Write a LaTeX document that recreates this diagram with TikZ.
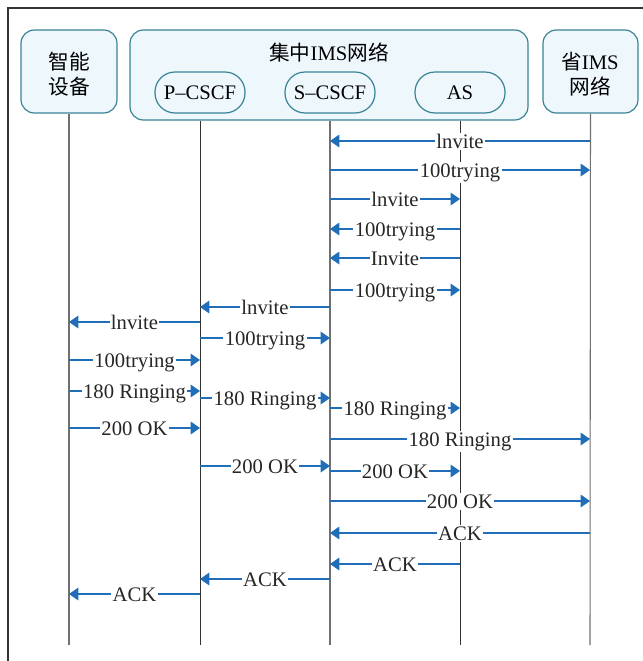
\documentclass[tikz,border=0pt]{standalone}
\usepackage{fontspec}
\setmainfont{Liberation Serif}
\newfontfamily\cjk{Noto Sans CJK SC}
\usetikzlibrary{arrows.meta}
\definecolor{boxline}{HTML}{3A8396}
\definecolor{boxfill}{HTML}{EEF7FC}
\definecolor{msgc}{HTML}{1F6EB7}
\definecolor{framec}{HTML}{333333}
\definecolor{lifec}{HTML}{707070}
\newcommand\seqmsg[4]{\draw[msgarrow] (#1 |- 0,#3) -- node[lbl]{#4} (#2 |- 0,#3);}
\begin{document}
\begin{tikzpicture}[x=0.75pt,y=-0.75pt,
  bigbox/.style={draw=boxline,fill=boxfill,line width=0.9pt,rounded corners=10pt,inner sep=0pt},
  pill/.style={draw=boxline,fill=boxfill,line width=0.9pt,rounded corners=15pt,minimum width=67.5pt,minimum height=30.75pt,inner sep=0pt,font=\fontsize{15.5pt}{18pt}\selectfont},
  boxtxt/.style={font=\fontsize{15.5pt}{18.75pt}\selectfont,align=center},
  lifeline/.style={draw=lifec,line width=0.8pt},
  lifethin/.style={draw=black!80,line width=0.55pt},
  msgarrow/.style={draw=msgc,line width=0.9pt,-{Triangle[length=7pt,width=9.5pt]}},
  lbl/.style={fill=white,inner sep=1pt,anchor=base,yshift=-5.6pt,font=\fontsize{15.5pt}{18pt}\selectfont,text=black!85}]
\useasboundingbox (0,0) rectangle (643,661);
% frame
\draw[framec,line width=1pt] (8,661) -- (8,8) -- (643,8);
% boxes
\node[bigbox,minimum width=72pt,minimum height=62.25pt] (dev) at (69,71.5) {};
\node[boxtxt] (devtxt) at (69,74.5) {\cjk 智能\\\cjk 设备};
\node[bigbox,minimum width=298.5pt,minimum height=67.5pt] (cen) at (329,75) {};
\node[boxtxt] (centxt) at (329,52) {{\cjk 集中}IMS{\cjk 网络}};
\node[pill] (pc) at (200,92.5) {P–CSCF};
\node[pill] (sc) at (330,92.5) {S–CSCF};
\node[pill] (as) at (460,92.5) {AS};
\node[bigbox,minimum width=71.25pt,minimum height=62.25pt] (prov) at (590.5,71.5) {};
\node[boxtxt] (provtxt) at (590,74.5) {{\cjk 省}IMS\\\cjk 网络};
% lifeline ends
\coordinate (devE) at (69,645);
\coordinate (pcE) at (200,645);
\coordinate (scE) at (330,645);
\coordinate (asE) at (460,645);
\coordinate (provE) at (590,645);
\draw[lifeline] (dev.south) -- (devE);
\draw[lifethin] (pcE |- cen.south) -- (pcE);
\draw[lifeline] (scE |- cen.south) -- (scE);
\draw[lifethin] (asE |- cen.south) -- (asE);
\draw[lifeline] (prov.south) -- (provE);
% messages
\seqmsg{provE}{scE}{141}{lnvite}
\seqmsg{scE}{provE}{170}{100trying}
\seqmsg{scE}{asE}{199}{lnvite}
\seqmsg{asE}{scE}{229}{100trying}
\seqmsg{asE}{scE}{258}{Invite\hspace{5pt}}
\seqmsg{scE}{asE}{290}{100trying}
\seqmsg{scE}{pcE}{307}{lnvite}
\seqmsg{pcE}{devE}{322}{lnvite}
\seqmsg{pcE}{scE}{338}{100trying}
\seqmsg{devE}{pcE}{360}{100trying}
\seqmsg{devE}{pcE}{391}{180 Ringing}
\seqmsg{pcE}{scE}{398}{180 Ringing}
\seqmsg{scE}{asE}{408}{180 Ringing}
\seqmsg{devE}{pcE}{428}{200 OK}
\seqmsg{scE}{provE}{439}{180 Ringing}
\seqmsg{pcE}{scE}{466}{200 OK}
\seqmsg{scE}{asE}{471}{200 OK}
\seqmsg{scE}{provE}{501}{200 OK}
\seqmsg{provE}{scE}{533}{ACK}
\seqmsg{asE}{scE}{564}{ACK}
\seqmsg{scE}{pcE}{579}{ACK}
\seqmsg{pcE}{devE}{594}{ACK}
\end{tikzpicture}
\end{document}
